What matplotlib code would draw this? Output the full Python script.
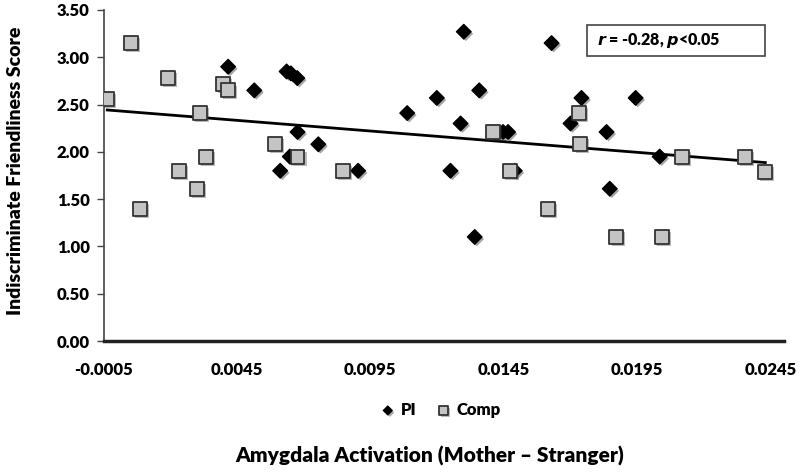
import numpy as np
import matplotlib
matplotlib.use("Agg")
import matplotlib.pyplot as plt
import matplotlib.patheffects as pe
from matplotlib.patches import Rectangle

# PI group (diamonds)
pi_x = [0.00417, 0.00515, 0.00636, 0.00652, 0.00676, 0.00677, 0.00755, 0.00648, 0.00612,
        0.01300, 0.01629, 0.01088, 0.01199, 0.01358, 0.01288, 0.01447, 0.01466, 0.00904,
        0.01250, 0.01491, 0.01700, 0.01741, 0.01944, 0.01835, 0.02034, 0.01341, 0.01847]
pi_y = [2.90, 2.65, 2.85, 2.83, 2.78, 2.21, 2.08, 1.95, 1.80,
        3.27, 3.15, 2.41, 2.57, 2.65, 2.30, 2.21, 2.21, 1.80,
        1.80, 1.80, 2.30, 2.57, 2.57, 2.21, 1.95, 1.10, 1.61]

# Comparison group (squares)
comp_x = [-0.00036, 0.00053, 0.00086, 0.00192, 0.00233, 0.00299, 0.00311, 0.00334,
          0.00399, 0.00417, 0.00593, 0.00677, 0.00848, 0.01408, 0.01472, 0.01616,
          0.01731, 0.01737, 0.01872, 0.02042, 0.02119, 0.02353, 0.02430]
comp_y = [2.56, 3.15, 1.40, 2.78, 1.80, 1.61, 2.41, 1.95,
          2.72, 2.65, 2.08, 1.95, 1.80, 2.21, 1.80, 1.40,
          2.41, 2.08, 1.10, 1.10, 1.95, 1.95, 1.79]

x_ticks = [-0.0005, 0.0045, 0.0095, 0.0145, 0.0195, 0.0245]
y_ticks = [0.0, 0.5, 1.0, 1.5, 2.0, 2.5, 3.0, 3.5]

plt.rcParams['font.family'] = ['Lato', 'DejaVu Sans']
plt.rcParams['font.weight'] = 'heavy'

fig = plt.figure(figsize=(8, 4.75), dpi=100)
ax = fig.add_axes([0.1294, 0.2821, 0.8506, 0.6969])

shadow = [pe.SimplePatchShadow(offset=(1.5, -1.5), alpha=0.35), pe.Normal()]

# linear trend over all points
all_x = np.array(pi_x + comp_x)
all_y = np.array(pi_y + comp_y)
slope, icpt = np.polyfit(all_x, all_y, 1)
xs = np.array([all_x.min(), all_x.max()])
ax.plot(xs, slope * xs + icpt, color='black', lw=2, zorder=2)

ax.scatter(pi_x, pi_y, marker='D', s=55, color='black', zorder=3, label='PI',
           path_effects=shadow)
ax.scatter(comp_x, comp_y, marker='s', s=100, facecolor='#c4c4c4', edgecolor='#333333',
           linewidths=1.3, zorder=4, label='Comp', path_effects=shadow)

ax.set_xlim(-0.0005, 0.025)
ax.set_ylim(0, 3.5)
ax.set_xticks(x_ticks)
ax.set_xticklabels(['%.4f' % v for v in x_ticks], fontsize=12, fontweight='heavy')
ax.set_yticks(y_ticks)
ax.set_yticklabels(['%.2f' % v for v in y_ticks], fontsize=12, fontweight='heavy')
ax.tick_params(axis='x', length=0, pad=15)
ax.tick_params(axis='y', direction='out', length=5, width=1, color='#444444', pad=5)

for s in ['top', 'right']:
    ax.spines[s].set_visible(False)
ax.spines['left'].set_color('#444444')
ax.spines['left'].set_linewidth(1.2)
ax.spines['bottom'].set_linewidth(2.5)
ax.spines['bottom'].set_color('#222222')

ax.set_ylabel('Indiscriminate Friendliness Score', fontsize=14, fontweight='heavy')
ax.yaxis.set_label_coords(-0.117, 0.515)
fig.text(0.5375, 0.04, 'Amygdala Activation (Mother \u2013 Stranger)', ha='center', va='center',
         fontsize=15, fontweight='heavy')

leg = ax.legend(loc='center', bbox_to_anchor=(0.496, -0.208), ncol=2, frameon=False,
                fontsize=12, handlelength=0.8, handletextpad=0.4, columnspacing=1.2,
                markerscale=0.6)
for t in leg.get_texts():
    t.set_fontweight('heavy')

ax.add_patch(Rectangle((0.7105, 0.861), 0.2615, 0.094, transform=ax.transAxes,
                       facecolor='white', edgecolor='#444444', lw=1.2, zorder=5))
ax.text(0.7245, 0.909, r'$\mathbfit{r}$ = -0.28, $\mathbfit{p}$<0.05', transform=ax.transAxes,
        ha='left', va='center', fontsize=11.5, fontweight='heavy', zorder=6)

fig.savefig('out.png', dpi=100)
